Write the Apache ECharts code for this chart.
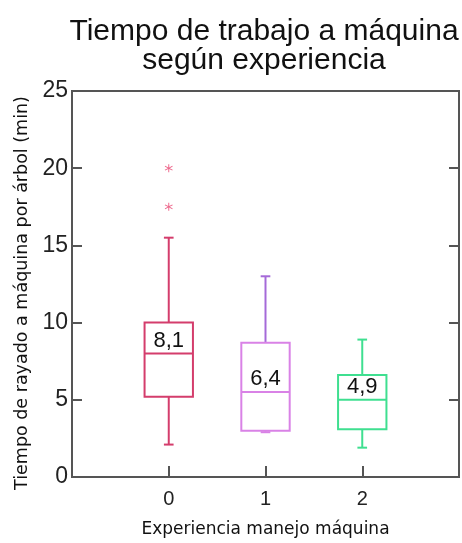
<!DOCTYPE html>
<html>
<head>
<meta charset="utf-8">
<script src="https://cdn.jsdelivr.net/npm/echarts@6/dist/echarts.min.js"></script>
<style>
  html, body { margin: 0; padding: 0; background: #fff; }
  #chart { width: 462px; height: 543px; }
</style>
</head>
<body>
<div id="chart"></div>
<script>
// values (minutes)
const categories = [0, 1, 2];
const whiskerLow = [2.1, 2.9, 1.9];
const q1 = [5.2, 3.0, 3.1];
const medians = [8.0, 5.5, 5.0];
const q3 = [10.0, 8.7, 6.6];
const whiskerHigh = [15.5, 13.0, 8.9];
const meanLabels = ['8,1', '6,4', '4,9'];
const outlierX = [0, 0];
const outlierY = [17.5, 20.0];
const yTicks = [0, 5, 10, 15, 20, 25];

const boxColors = ['#d43d6c', '#d982e6', '#3fdf90'];
const upperWhiskerColors = ['#d43d6c', '#a56ad8', '#3fdf90'];
const FRAME = '#555';

const chart = echarts.init(document.getElementById('chart'));

const boxData = categories.map((c, i) => [c, whiskerLow[i], q1[i], medians[i], q3[i], whiskerHigh[i], i]);
const outlierData = outlierX.map((x, i) => [x, outlierY[i]]);

// asterisk marker for outliers
const asterisk = 'path://M4.5,0 L5.5,0 L5.5,3.6 L8.6,1.8 L9.1,2.7 L6,4.5 L9.1,6.3 L8.6,7.2 L5.5,5.4 L5.5,9 L4.5,9 L4.5,5.4 L1.4,7.2 L0.9,6.3 L4,4.5 L0.9,2.7 L1.4,1.8 L4.5,3.6 Z';

function renderBox(params, api) {
  const x = api.value(0);
  const i = api.value(6);
  const half = 0.25, cap = 0.05;
  const p = (vx, vy) => api.coord([vx, vy]);
  const lo = p(x, api.value(1));
  const b1 = p(x, api.value(2));
  const md = p(x, api.value(3));
  const b3 = p(x, api.value(4));
  const hi = p(x, api.value(5));
  const left = p(x - half, 0)[0], right = p(x + half, 0)[0];
  const cl = p(x - cap, 0)[0], cr = p(x + cap, 0)[0];
  const col = boxColors[i], wcol = upperWhiskerColors[i];
  const st = { stroke: col, lineWidth: 2, fill: null };
  const wst = { stroke: wcol, lineWidth: 2, fill: null };
  return {
    type: 'group',
    children: [
      { type: 'line', shape: { x1: hi[0], y1: hi[1], x2: b3[0], y2: b3[1] }, style: wst },
      { type: 'line', shape: { x1: cl, y1: hi[1], x2: cr, y2: hi[1] }, style: wst },
      { type: 'line', shape: { x1: lo[0], y1: lo[1], x2: b1[0], y2: b1[1] }, style: st },
      { type: 'line', shape: { x1: cl, y1: lo[1], x2: cr, y2: lo[1] }, style: st },
      { type: 'rect', shape: { x: left, y: b3[1], width: right - left, height: b1[1] - b3[1] }, style: { stroke: col, lineWidth: 2, fill: '#fff' } },
      { type: 'line', shape: { x1: left, y1: md[1], x2: right, y2: md[1] }, style: st },
      {
        type: 'text',
        x: md[0], y: md[1] - 2,
        style: {
          text: meanLabels[i], fill: '#111',
          font: '22px "Liberation Sans", Arial, sans-serif',
          align: 'center', verticalAlign: 'bottom'
        }
      }
    ]
  };
}

chart.setOption({
  animation: false,
  backgroundColor: '#fff',
  title: {
    text: 'Tiempo de trabajo a máquina\nsegún experiencia',
    left: 259,
    top: 12,
    textAlign: 'center',
    textStyle: {
      fontFamily: '"Liberation Sans", Arial, sans-serif',
      fontSize: 30, fontWeight: 'normal', color: '#111', lineHeight: 29
    }
  },
  grid: {
    left: 72, right: 2, top: 91, bottom: 61,
    show: true, borderColor: FRAME, borderWidth: 2, backgroundColor: 'transparent'
  },
  xAxis: {
    type: 'value',
    min: -1, max: 3, interval: 1,
    name: 'Experiencia manejo máquina',
    nameLocation: 'middle',
    nameGap: 44,
    nameTextStyle: { fontFamily: '"DejaVu Sans", sans-serif', fontSize: 17, color: '#111' },
    axisLine: { onZero: false, lineStyle: { color: FRAME, width: 2 } },
    axisTick: { inside: true, length: 11, lineStyle: { color: FRAME, width: 2 } },
    axisLabel: {
      margin: 12, color: '#222', fontSize: 20,
      fontFamily: '"Liberation Sans", Arial, sans-serif',
      formatter: v => (categories.includes(v) ? String(v) : '')
    },
    splitLine: { show: false }
  },
  yAxis: [
    {
      type: 'value',
      min: yTicks[0], max: yTicks[yTicks.length - 1], interval: 5,
      name: 'Tiempo de rayado a máquina por árbol (min)',
      nameLocation: 'middle',
      nameGap: 41,
      nameTextStyle: { fontFamily: '"DejaVu Sans", sans-serif', fontSize: 17.5, color: '#111', padding: [0, 18, 0, 0] },
      axisLine: { show: true, onZero: false, lineStyle: { color: FRAME, width: 2 } },
      axisTick: { show: true, inside: true, length: 10, lineStyle: { color: FRAME, width: 2 } },
      axisLabel: { margin: 4, color: '#222', fontSize: 23, fontFamily: '"Liberation Sans", Arial, sans-serif' },
      splitLine: { show: false }
    },
    {
      type: 'value', position: 'right',
      min: yTicks[0], max: yTicks[yTicks.length - 1], interval: 5,
      axisLine: { show: true, onZero: false, lineStyle: { color: FRAME, width: 2 } },
      axisTick: { show: true, inside: true, length: 10, lineStyle: { color: FRAME, width: 2 } },
      axisLabel: { show: false },
      splitLine: { show: false }
    }
  ],
  series: [
    {
      type: 'custom',
      renderItem: renderBox,
      encode: { x: 0, y: [1, 2, 3, 4, 5] },
      data: boxData,
      z: 3
    },
    {
      type: 'scatter',
      symbol: asterisk,
      symbolSize: 8,
      itemStyle: { color: '#e8426f' },
      data: outlierData,
      z: 4
    }
  ]
});
</script>
</body>
</html>
